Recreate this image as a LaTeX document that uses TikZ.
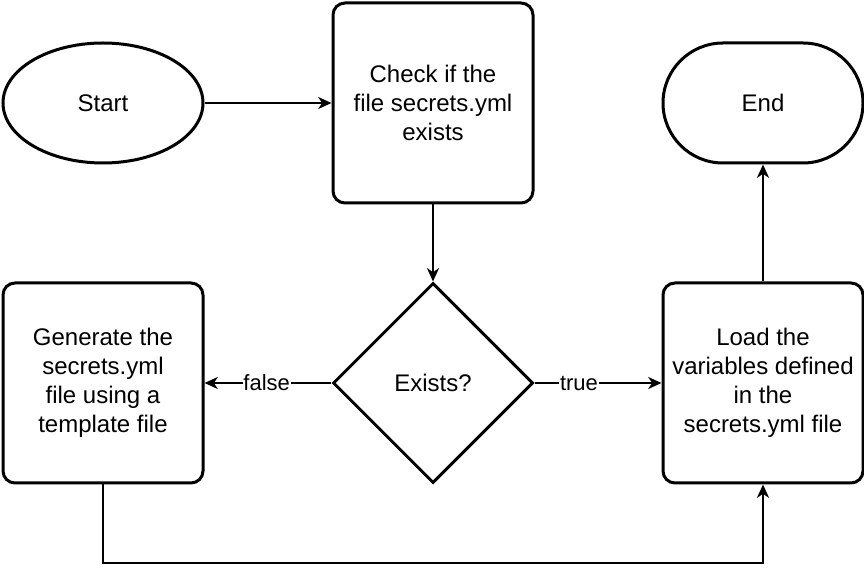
\documentclass[tikz,border=0pt]{standalone}
\usepackage{fontspec}
\setmainfont{Liberation Sans}
\usetikzlibrary{shapes.geometric,arrows.meta}
\begin{document}
\begin{tikzpicture}[x=0.75pt,y=-0.75pt,
  shapebox/.style={draw,line width=2.25pt,fill=white,align=center,
    font=\fontsize{18}{21.75}\selectfont,inner sep=0pt,
    minimum width=150pt,minimum height=150pt},
  rbox/.style={shapebox,rectangle,rounded corners=9pt},
  arr/.style={line width=1.5pt,-{Stealth[length=10pt,width=9pt,inset=3pt]}},
  lbl/.style={fill=white,inner sep=0.5pt,font=\fontsize{16.5}{19}\selectfont}]
\useasboundingbox (0,0) rectangle (864,580);
\node[shapebox,ellipse,minimum height=90pt] (start) at (103,103) {Start};
\node[rbox] (check) at (433,103) {Check if the\\file secrets.yml\\exists};
\node[shapebox,rectangle,rounded corners=45pt,minimum height=90pt] (endn) at (763,103) {End};
\node[shapebox,diamond,aspect=1] (dec) at (433,383) {Exists?};
\node[rbox] (gen) at (103,383) {Generate the\\secrets.yml\\file using a\\template file};
\node[rbox] (load) at (763,383) {Load the\\variables defined\\in the\\secrets.yml file};
\draw[arr] (start) -- (check);
\draw[arr] (check) -- (dec);
\draw[arr] (dec) -- node[lbl,pos=0.51]{false} (gen);
\draw[arr] (dec) -- node[lbl,pos=0.35]{true} (load);
\draw[arr] (load) -- (endn);
\coordinate (bl) at (103,563);
\draw[arr] (gen.south) -- (bl) -| (load.south);
\end{tikzpicture}
\end{document}
